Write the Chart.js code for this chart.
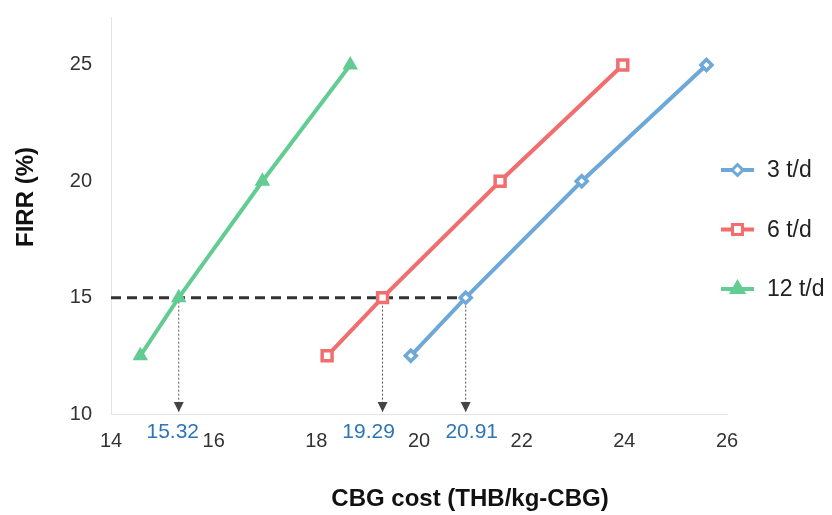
<!DOCTYPE html>
<html>
<head>
<meta charset="utf-8">
<script src="https://cdn.jsdelivr.net/npm/chart.js@4"></script>
<style>
  html, body { margin: 0; padding: 0; background: #fff; }
  #wrap { width: 832px; height: 515px; }
</style>
</head>
<body>
<div id="wrap"><canvas id="c" width="832" height="515"></canvas></div>
<script>
// ---- data ----
const firrLevels = [12.5, 15, 20, 25];
const cost3 = [19.84, 20.91, 23.17, 25.6];
const cost6 = [18.21, 19.29, 21.58, 23.97];
const cost12 = [14.57, 15.32, 16.95, 18.66];
const seriesNames = ['3 t/d', '6 t/d', '12 t/d'];
const targetFirr = 15;
const breakEven = [15.32, 19.29, 20.91];   // marked costs at FIRR 15 %
const xTicks = [14, 16, 18, 20, 22, 24, 26];
const yTicks = [10, 15, 20, 25];
const xTitle = 'CBG cost (THB/kg-CBG)';
const yTitle = 'FIRR (%)';

const BLUE = '#6ea8d9';
const RED = '#f26d6d';
const GREEN = '#62cc92';
const FONT = "'Liberation Sans', Arial, sans-serif";

function pts(xs){ return xs.map((x, i) => ({x: x, y: firrLevels[i]})); }

// dotted drop lines, drawn by the scales
const dropSets = breakEven.map(x => ({
  data: [{x: x, y: targetFirr}, {x: x, y: 10.1}],
  borderColor: '#555', borderWidth: 1, borderDash: [2, 2],
  pointRadius: 0, order: 5
}));

// arrow heads, value labels, axis titles and the legend
const extras = {
  id: 'extras',
  afterDatasetsDraw(chart){
    const ctx = chart.ctx, xs = chart.scales.x, ys = chart.scales.y;
    const yBot = ys.getPixelForValue(10);
    ctx.save();
    ctx.fillStyle = '#444';
    breakEven.forEach(v => {
      const px = xs.getPixelForValue(v);
      ctx.beginPath();
      ctx.moveTo(px - 5, yBot - 12);
      ctx.lineTo(px + 5, yBot - 12);
      ctx.lineTo(px, yBot - 2);
      ctx.closePath();
      ctx.fill();
    });
    ctx.font = '21px ' + FONT;
    ctx.fillStyle = '#2e75b6';
    ctx.textAlign = 'center';
    ctx.textBaseline = 'middle';
    const nudge = [-6, -14, 6];
    breakEven.forEach((v, i) => {
      ctx.fillText(v.toFixed(2), xs.getPixelForValue(v) + nudge[i], yBot + 18);
    });

    // axis titles
    ctx.fillStyle = '#111';
    ctx.font = 'bold 24px ' + FONT;
    ctx.fillText(xTitle, 470, 499);
    ctx.save();
    ctx.translate(26, 197);
    ctx.rotate(-Math.PI / 2);
    ctx.fillText(yTitle, 0, 0);
    ctx.restore();

    // legend
    const cols = [BLUE, RED, GREEN];
    const styles = ['rectRot', 'rect', 'triangle'];
    const radii = [5.5, 7, 7];
    const fills = ['#fff', '#fff', GREEN];
    ctx.textAlign = 'left';
    ctx.font = '23px ' + FONT;
    seriesNames.forEach((name, i) => {
      const ly = 170 + i * 59.5;
      ctx.strokeStyle = cols[i];
      ctx.lineWidth = 4;
      ctx.beginPath();
      ctx.moveTo(721, ly);
      ctx.lineTo(754, ly);
      ctx.stroke();
      ctx.fillStyle = fills[i];
      ctx.lineWidth = 3;
      Chart.helpers.drawPoint(ctx, {pointStyle: styles[i], radius: radii[i], borderWidth: 3}, 737.5, ly);
      ctx.fillStyle = '#222';
      ctx.fillText(name, 767, ly + 1);
    });
    ctx.restore();
  }
};

new Chart(document.getElementById('c'), {
  type: 'line',
  data: {
    datasets: [
      { label: seriesNames[0], data: pts(cost3), borderColor: BLUE, backgroundColor: '#fff',
        borderWidth: 4, pointStyle: 'rectRot', pointRadius: 5.5, pointBorderWidth: 3.5, order: 1 },
      { label: seriesNames[1], data: pts(cost6), borderColor: RED, backgroundColor: '#fff',
        borderWidth: 4, pointStyle: 'rect', pointRadius: 7, pointBorderWidth: 3.5, order: 1 },
      { label: seriesNames[2], data: pts(cost12), borderColor: GREEN, backgroundColor: GREEN,
        borderWidth: 4, pointStyle: 'triangle', pointRadius: 7, pointBorderWidth: 2, order: 1 },
      { data: [{x: 14, y: targetFirr}, {x: breakEven[2], y: targetFirr}],
        borderColor: '#333', borderWidth: 3, borderDash: [10, 6], pointRadius: 0, order: 3 },
      ...dropSets
    ]
  },
  options: {
    responsive: false,
    animation: false,
    layout: { padding: { top: 17, right: 105, left: 0, bottom: 0 } },
    plugins: { legend: { display: false }, tooltip: { enabled: false } },
    scales: {
      x: {
        type: 'linear', min: 14, max: 26,
        afterBuildTicks: s => { s.ticks = xTicks.map(v => ({value: v})); },
        afterFit: s => { s.height = 101; s.paddingLeft = 0; s.paddingRight = 0; },
        grid: { display: false, drawTicks: false },
        border: { color: '#e3e3e3', width: 1 },
        ticks: { color: '#333', font: { family: FONT, size: 20 }, padding: 15 }
      },
      y: {
        type: 'linear', min: 10, max: 27.06,
        afterBuildTicks: s => { s.ticks = yTicks.map(v => ({value: v})); },
        afterFit: s => { s.width = 111; s.paddingTop = 0; s.paddingBottom = 0; },
        grid: { display: false, drawTicks: false },
        border: { color: '#e3e3e3', width: 1 },
        ticks: { color: '#333', font: { family: FONT, size: 20 }, padding: 19 }
      }
    }
  },
  plugins: [extras]
});
</script>
</body>
</html>
